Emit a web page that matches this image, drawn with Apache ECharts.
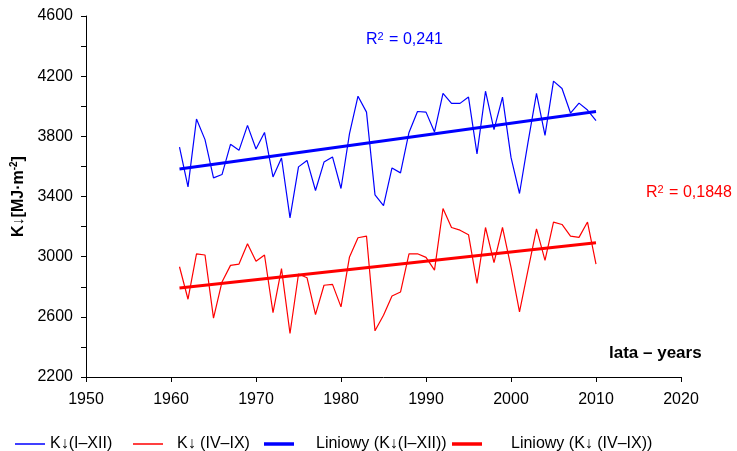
<!DOCTYPE html>
<html><head><meta charset="utf-8">
<script src="https://cdn.jsdelivr.net/npm/echarts@6/dist/echarts.min.js"></script>
<style>html,body{margin:0;padding:0;background:#fff}#c{width:737px;height:451px}</style>
</head><body><div id="c"></div>
<script>
var years = [];
for (var y = 1961; y <= 2010; y++) years.push(y);
var kYear = [3729,3464,3915,3778,3524,3546,3747,3707,3873,3716,
             3826,3530,3656,3258,3597,3640,3440,3629,3663,3453,
             3818,4067,3961,3411,3340,3590,3557,3826,3965,3961,
             3829,4085,4019,4019,4061,3683,4100,3844,4061,3660,
             3420,3760,4085,3806,4167,4118,3955,4021,3975,3904];
var kSummer = [2933,2717,3019,3011,2591,2832,2942,2951,3086,2969,
               3011,2628,2920,2489,2885,2860,2615,2810,2816,2666,
               2998,3126,3137,2507,2611,2739,2765,3019,3019,2995,
               2911,3320,3194,3176,3146,2823,3194,2960,3194,2930,
               2633,2910,3185,2975,3230,3214,3137,3128,3230,2951];
var trendYears = [1961, 2010];
var trendYear = [3583, 3965];
var trendSummer = [2792, 3092];
var xTicks = [1950, 2020, 10];
var yTicks = [2200, 4600, 400];
var names = ['K\u2193(I\u2013XII)', 'K\u2193 (IV\u2013IX)', 'Liniowy (K\u2193(I\u2013XII))', 'Liniowy (K\u2193 (IV\u2013IX))'];

function pairs(xs, vs){ return xs.map(function(x,i){ return [x, vs[i]]; }); }
var F = '"Liberation Sans", Arial, sans-serif';
var chart = echarts.init(document.getElementById('c'), null, {renderer:'canvas'});
function leg(name, left, h, color, pad){
  return {data:[name], left:left, top:431, itemWidth:30, itemHeight:h, icon:'rect',
    itemStyle:{color:color}, textStyle:{fontFamily:F, fontSize:16, color:'#000', padding:[0,0,0,pad]}};
}
chart.setOption({
  animation:false,
  grid:{left:86, top:16, width:595, height:361, containLabel:false},
  xAxis:{type:'value', min:xTicks[0], max:xTicks[1], interval:xTicks[2],
    axisLine:{lineStyle:{color:'#000', width:1}}, axisTick:{length:5, lineStyle:{color:'#000'}},
    axisLabel:{fontFamily:F, fontSize:16, color:'#000', margin:15, formatter:function(v){return String(v);}}, splitLine:{show:false}},
  yAxis:{type:'value', min:yTicks[0], max:yTicks[1], interval:yTicks[2],
    name:'{a|K\u2193[MJ\u00b7m}{s|-2}{a|]}', nameLocation:'middle', nameRotate:90, nameGap:56,
    nameTextStyle:{rich:{a:{fontFamily:F, fontSize:16, fontWeight:'bold', color:'#000'},
                         s:{fontFamily:F, fontSize:10, fontWeight:'bold', color:'#000', verticalAlign:'bottom', padding:[0,0,8,0]}}},
    axisLine:{show:true, lineStyle:{color:'#000', width:1}}, axisTick:{show:true, length:5, lineStyle:{color:'#000'}},
    minorTick:{show:true, splitNumber:2, length:5, lineStyle:{color:'#000'}},
    axisLabel:{fontFamily:F, fontSize:16, color:'#000', margin:13, formatter:function(v){return String(v);}}, splitLine:{show:false}},
  legend:[leg(names[0], 10, 1.5, '#0000ff', 0), leg(names[1], 128, 1.5, '#ff0000', 9),
          leg(names[2], 259, 3.5, '#0000ff', 17), leg(names[3], 447, 3.5, '#ff0000', 24)],
  series:[
    {name:names[0], type:'line', data:pairs(years,kYear), symbol:'none', lineStyle:{color:'#0000ff', width:1.2}, itemStyle:{color:'#0000ff'}},
    {name:names[1], type:'line', data:pairs(years,kSummer), symbol:'none', lineStyle:{color:'#ff0000', width:1.2}, itemStyle:{color:'#ff0000'}},
    {name:names[2], type:'line', data:pairs(trendYears,trendYear), symbol:'none', lineStyle:{color:'#0000ff', width:3}, itemStyle:{color:'#0000ff'}},
    {name:names[3], type:'line', data:pairs(trendYears,trendSummer), symbol:'none', lineStyle:{color:'#ff0000', width:3}, itemStyle:{color:'#ff0000'}}
  ],
  graphic:[
    {type:'text', left:366, top:31, style:{text:'{a|R}{s|2}{a| = 0,241}',
      rich:{a:{fontFamily:F, fontSize:16, fill:'#0000ff'}, s:{fontFamily:F, fontSize:11, fill:'#0000ff', verticalAlign:'bottom', padding:[0,1,7,0]}}}},
    {type:'text', left:646, top:184, style:{text:'{a|R}{s|2}{a| = 0,1848}',
      rich:{a:{fontFamily:F, fontSize:16, fill:'#ff0000'}, s:{fontFamily:F, fontSize:11, fill:'#ff0000', verticalAlign:'bottom', padding:[0,1,7,0]}}}},
    {type:'text', left:609, top:345, style:{text:'lata \u2013 years', font:'bold 17px "Liberation Sans", Arial, sans-serif', fill:'#000'}}
  ]
});
</script></body></html>
